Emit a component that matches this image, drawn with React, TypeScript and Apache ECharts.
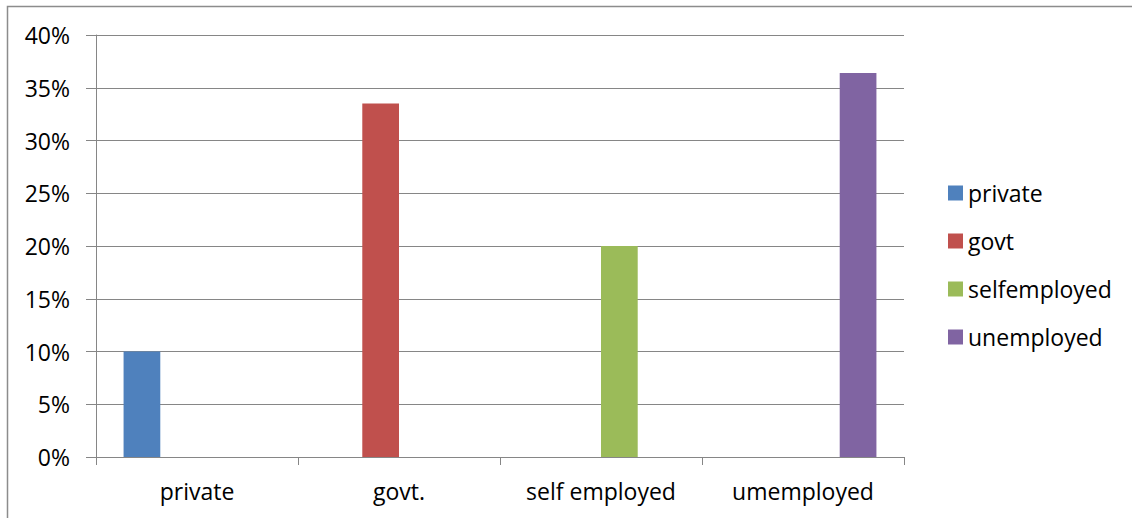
import React, { useEffect, useRef } from "react";
import * as echarts from "echarts";

const categories = ["private", "govt.", "self employed", "umemployed"];
const seriesNames = ["private", "govt", "selfemployed", "unemployed"];
const privateValues: (number | string)[] = [0.10, "-", "-", "-"];
const govtValues: (number | string)[] = ["-", 0.335, "-", "-"];
const selfEmployedValues: (number | string)[] = ["-", "-", 0.20, "-"];
const unemployedValues: (number | string)[] = ["-", "-", "-", 0.364];
const colors = ["#4F81BD", "#C0504D", "#9BBB59", "#8064A2"];

const FONT = "'Open Sans', 'Noto Sans', sans-serif";
const FS = 23;

export default function App() {
  const ref = useRef<HTMLDivElement>(null);
  useEffect(() => {
    if (!ref.current) return;
    const chart = echarts.init(ref.current, null, { renderer: "svg" });
    const allValues = [privateValues, govtValues, selfEmployedValues, unemployedValues];
    chart.setOption({
      animation: false,
      backgroundColor: "#ffffff",
      textStyle: { fontFamily: FONT },
      graphic: [
        {
          type: "rect",
          shape: { x: 7.5, y: 6.5, width: 1300, height: 700 },
          style: { fill: "none", stroke: "#8c8c8c", lineWidth: 1.5 },
          silent: true,
        },
      ],
      grid: { left: 96, right: 228, top: 35, bottom: 61 },
      legend: {
        orient: "vertical",
        left: 948,
        top: 180,
        padding: 0,
        itemWidth: 15,
        itemHeight: 15,
        itemGap: 22,
        icon: "rect",
        data: seriesNames,
        textStyle: { fontFamily: FONT, fontSize: FS, color: "#000", lineHeight: 26 },
      },
      xAxis: {
        type: "category",
        data: categories,
        axisLine: { lineStyle: { color: "#868686", width: 1 } },
        axisTick: { show: true, length: 8, lineStyle: { color: "#868686" } },
        axisLabel: { fontFamily: FONT, fontSize: FS, color: "#000", margin: 22 },
      },
      yAxis: {
        type: "value",
        min: 0,
        max: 0.4,
        interval: 0.05,
        axisLine: { show: true, lineStyle: { color: "#868686", width: 1 } },
        axisTick: { show: true, length: 10, lineStyle: { color: "#868686" } },
        splitLine: { show: true, lineStyle: { color: "#868686", width: 1 } },
        axisLabel: {
          fontFamily: FONT,
          fontSize: FS,
          color: "#000",
          margin: 26,
          formatter: (v: number) => `${Math.round(v * 100)}%`,
        },
      },
      series: seriesNames.map((name, i) => ({
        name,
        type: "bar",
        data: allValues[i],
        itemStyle: { color: colors[i] },
        barGap: "0%",
        barCategoryGap: "27.3%",
      })),
    });
    return () => chart.dispose();
  }, []);
  return (
    <div
      ref={ref}
      style={{ position: "fixed", left: 0, top: 0, width: 1132, height: 518 }}
    />
  );
}
